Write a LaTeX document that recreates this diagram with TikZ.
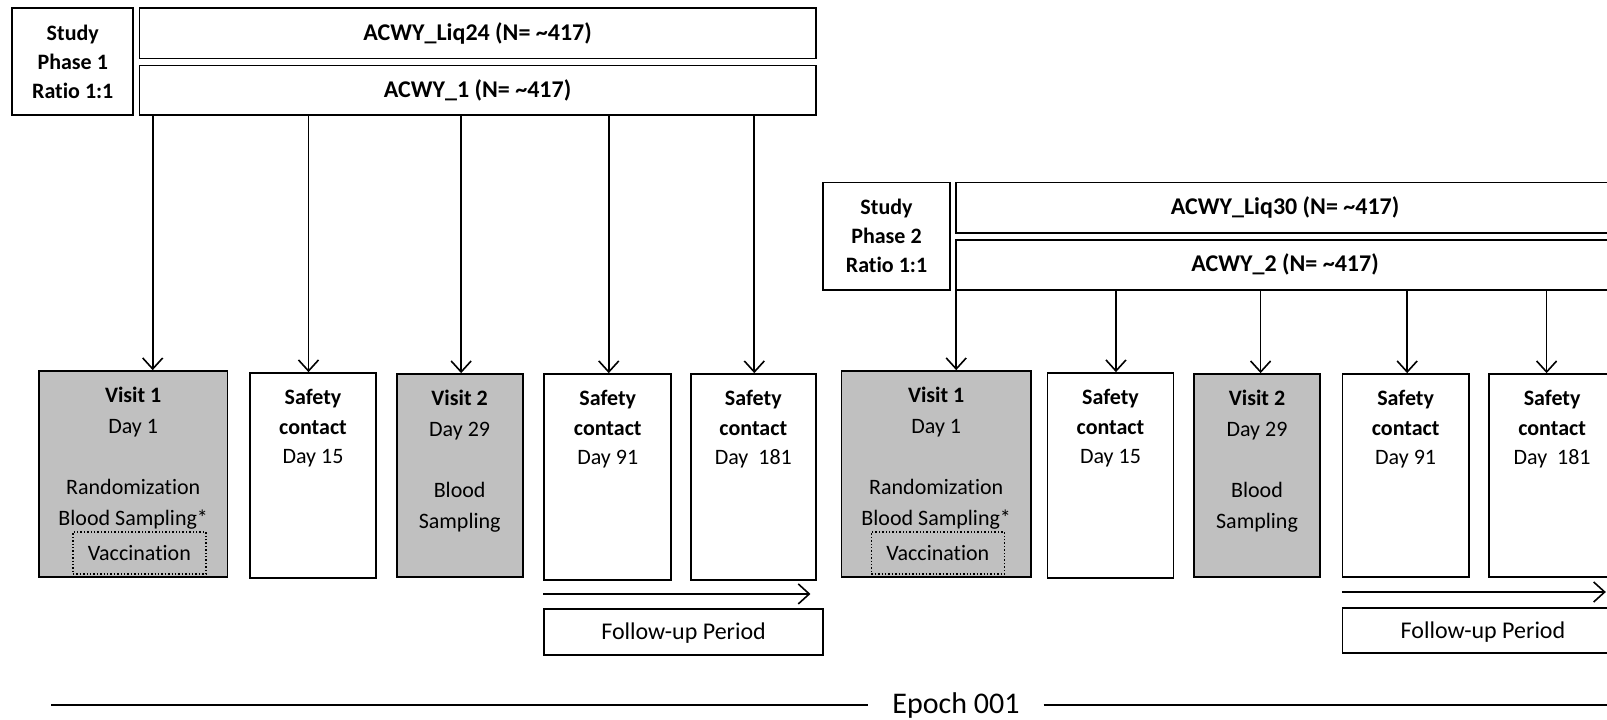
\documentclass[tikz,border=0pt]{standalone}
\usepackage{fontspec}
\setmainfont{Carlito}[Ligatures=NoCommon]
\usepackage{xcolor}
\usetikzlibrary{arrows.meta,positioning}
\definecolor{visitgray}{RGB}{192,192,192}

\begin{document}
\begin{tikzpicture}[x=1pt,y=-1pt]
\tikzset{box/.style={draw,line width=1.7pt,inner sep=0pt,align=center}}
\tikzset{visit/.style={box,fill=visitgray}}
\tikzset{hdr/.style={box,font=\fontsize{24}{29}\selectfont\bfseries}}
\tikzset{txt/.style={align=center,inner sep=0pt,font=\fontsize{22}{29.5}\selectfont}}
\tikzset{vtxt/.style={align=center,inner sep=0pt,font=\fontsize{22}{30.5}\selectfont}}
\tikzset{vacc/.style={draw,dotted,line width=1.4pt,inner sep=0pt,minimum width=133pt,minimum height=42pt,font=\fontsize{22}{29.5}\selectfont}}
\tikzset{link/.style={-{Straight Barb[length=11pt,width=20pt,line width=1.6pt]},line width=1.7pt}}

\useasboundingbox (0,0) rectangle (1607,720);
\clip (0,0) rectangle (1607,720);

% phase 1
\node[box,font=\fontsize{22}{29}\selectfont\bfseries,minimum width=121pt,minimum height=106.6pt] (st1) at (72.75,61.5) {Study\\Phase 1\\Ratio 1:1};
\node[hdr,minimum width=676.4pt,minimum height=50.2pt] (liq24) at (477.6,33.3) {ACWY\_Liq24 (N= \textasciitilde417)};
\node[hdr,minimum width=676.4pt,minimum height=49.2pt] (acwy1) at (477.6,90.2) {ACWY\_1 (N= \textasciitilde417)};

\node[visit,minimum width=188.6pt,minimum height=206pt] (v1a) at (133.2,474) {};
\node[vtxt,below=17pt of v1a.north] (v1atxt) {\textbf{Visit 1}\\Day 1\\[31pt]Randomization\\Blood Sampling*};
\node[vacc] (vac1) at (139.4,553) {Vaccination};
\node[box,minimum width=126pt,minimum height=205pt] (sc15a) at (313,475.5) {};
\node[txt,below=17pt of sc15a.north] (sc15atxt) {\textbf{Safety}\\\textbf{contact}\\Day 15};
\node[visit,minimum width=126pt,minimum height=203pt] (v2a) at (459.65,475.5) {};
\node[vtxt,below=17pt of v2a.north] (v2atxt) {\textbf{Visit 2}\\Day 29\\[31pt]Blood\\Sampling};
\node[box,minimum width=127pt,minimum height=206pt] (sc91a) at (607.75,477) {};
\node[txt,below=17pt of sc91a.north] (sc91atxt) {\textbf{Safety}\\\textbf{contact}\\Day 91};
\node[box,minimum width=125pt,minimum height=206pt] (sc181a) at (753.3,477) {};
\node[txt,below=17pt of sc181a.north] (sc181atxt) {\textbf{Safety}\\\textbf{contact}\\Day\ \ 181};

\foreach \n/\d in {v1a/19.5,sc15a/-4.5,v2a/1.5,sc91a/1,sc181a/1}
  \draw[link] ([xshift=\d pt]\n.north |- acwy1.south) -- ([xshift=\d pt]\n.north);

\node[box,font=\fontsize{24}{29}\selectfont,text depth=1pt,minimum width=278.8pt,minimum height=46.2pt] (fua) at (683.6,631.9) {Follow-up Period};
\draw[link] ([yshift=14pt]fua.north west) -- ([yshift=14pt,xshift=-13.4pt]fua.north east);

% phase 2
\node[box,font=\fontsize{22}{29}\selectfont\bfseries,minimum width=127pt,minimum height=107.6pt] (st2) at (886.5,236.2) {Study\\Phase 2\\Ratio 1:1};
\node[hdr,minimum width=657.8pt,minimum height=50.3pt] (liq30) at (1285.1,207.55) {ACWY\_Liq30 (N= \textasciitilde417)};
\node[hdr,minimum width=657.8pt,minimum height=50.2pt] (acwy2) at (1285.1,264.9) {ACWY\_2 (N= \textasciitilde417)};

\node[visit,minimum width=189.6pt,minimum height=206pt] (v1b) at (936.2,474) {};
\node[vtxt,below=17pt of v1b.north] (v1btxt) {\textbf{Visit 1}\\Day 1\\[31pt]Randomization\\Blood Sampling*};
\node[vacc] (vac2) at (937.8,553) {Vaccination};
\node[box,minimum width=126.1pt,minimum height=205pt] (sc15b) at (1110.45,475.5) {};
\node[txt,below=17pt of sc15b.north] (sc15btxt) {\textbf{Safety}\\\textbf{contact}\\Day 15};
\node[visit,minimum width=126pt,minimum height=203pt] (v2b) at (1257,475.5) {};
\node[vtxt,below=17pt of v2b.north] (v2btxt) {\textbf{Visit 2}\\Day 29\\[31pt]Blood\\Sampling};
\node[box,minimum width=126.1pt,minimum height=203pt] (sc91b) at (1405.65,475.5) {};
\node[txt,below=17pt of sc91b.north] (sc91btxt) {\textbf{Safety}\\\textbf{contact}\\Day 91};
\node[box,minimum width=125.8pt,minimum height=203pt] (sc181b) at (1552.1,475.5) {};
\node[txt,below=17pt of sc181b.north] (sc181btxt) {\textbf{Safety}\\\textbf{contact}\\Day\ \ 181};

\foreach \n/\d in {v1b/20,sc15b/5.5,v2b/3.6,sc91b/1.5,sc181b/-5.5}
  \draw[link] ([xshift=\d pt]\n.north |- acwy2.south) -- ([xshift=\d pt]\n.north);

\node[box,font=\fontsize{24}{29}\selectfont,text depth=1pt,minimum width=280.8pt,minimum height=45pt] (fub) at (1483,630.35) {Follow-up Period};
\draw[link] ([yshift=15pt]fub.north west) -- ([yshift=15pt,xshift=-18.4pt]fub.north east);

% epoch
\node[font=\fontsize{30}{36}\selectfont,inner xsep=24pt] (epoch) at (956,705) {Epoch 001};
\coordinate (eL) at (51,705);
\coordinate (eR) at (1615,705);
\draw[line width=1.7pt] (eL) -- (epoch.west);
\draw[line width=1.7pt] (epoch.east) -- (eR);

\end{tikzpicture}
\end{document}
